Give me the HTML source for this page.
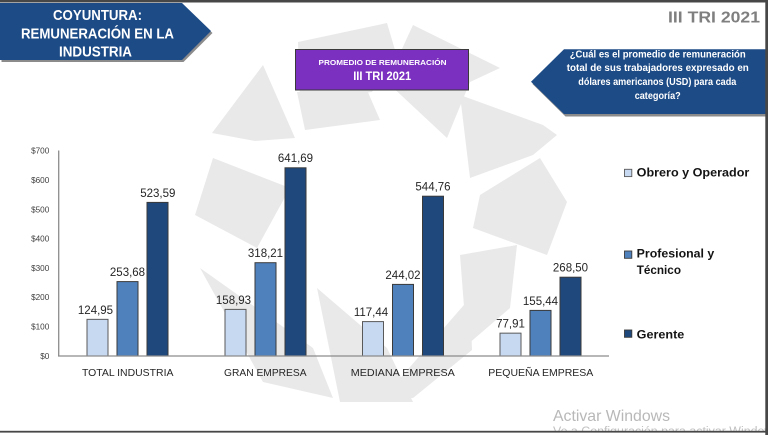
<!DOCTYPE html>
<html>
<head>
<meta charset="utf-8">
<style>
  html,body{margin:0;padding:0;background:#fff;}
  svg{display:block;}
  text{font-family:"Liberation Sans","DejaVu Sans",sans-serif;}
</style>
</head>
<body>
<svg width="768" height="435" viewBox="0 0 768 435" xmlns="http://www.w3.org/2000/svg">
  <rect x="0" y="0" width="768" height="435" fill="#ffffff"/>

  <!-- watermark pinwheel -->
  <g fill="#e9e9e9">
    <polygon points="212,133 263,65 295,138 255,141"/>
    <polygon points="298,42 387,23 395,50 372,92 300,100"/>
    <polygon points="297,92 367,90 380,120 305,130"/>
    <polygon points="407,38 413,25 500,68 470,82 447,138 387,82"/>
    <polygon points="460,95 543,125 557,135 533,155 470,178"/>
    <polygon points="480,195 540,158 567,202 547,255 473,228"/>
    <polygon points="460,255 517,245 510,308 467,345"/>
    <polygon points="383,398 470,298 472,350 413,398"/>
    <polygon points="317,288 387,348 413,402 340,402"/>
    <polygon points="200,268 313,348 333,398 263,382"/>
    <polygon points="195,215 213,158 290,188 257,248"/>
  </g>

  <!-- title box -->
  <polygon points="1.5,5.5 183.5,5.5 212.5,33 183.5,62 1.5,62" fill="#2b2b2b" opacity="0.55"/>
  <polygon points="0,3 182,3 211,31 182,60 0,60" fill="#1d4b86"/>
  <g fill="#ffffff" font-weight="bold" font-size="15" text-anchor="middle">
    <text x="97.5" y="20" textLength="89" lengthAdjust="spacingAndGlyphs">COYUNTURA:</text>
    <text x="97.5" y="38.5" textLength="153" lengthAdjust="spacingAndGlyphs">REMUNERACIÓN EN LA</text>
    <text x="95.5" y="56.7" textLength="73" lengthAdjust="spacingAndGlyphs">INDUSTRIA</text>
  </g>

  <!-- III TRI 2021 -->
  <text x="714" y="22.7" fill="#7f7f7f" font-weight="bold" font-size="16" text-anchor="middle" textLength="92" lengthAdjust="spacingAndGlyphs">III TRI 2021</text>

  <!-- purple box -->
  <rect x="295.5" y="49.5" width="173" height="40.5" fill="#7b30c0" stroke="#3a3a3a" stroke-width="1"/>
  <text x="382.5" y="65" fill="#ffffff" font-weight="bold" font-size="7" text-anchor="middle" textLength="128" lengthAdjust="spacingAndGlyphs">PROMEDIO DE REMUNERACIÓN</text>
  <text x="382.2" y="80" fill="#ffffff" font-weight="bold" font-size="11.5" text-anchor="middle" textLength="58" lengthAdjust="spacingAndGlyphs">III TRI 2021</text>

  <!-- question box -->
  <polygon points="532.5,84 565.5,51.5 768,51.5 768,116.5 565.5,116.5" fill="#2b2b2b" opacity="0.55"/>
  <polygon points="531,81.7 564,49.3 766,49.3 766,114 564,114" fill="#1d4b86"/>
  <g fill="#ffffff" font-weight="bold" font-size="10" text-anchor="middle">
    <text x="657.7" y="57.5" textLength="176" lengthAdjust="spacingAndGlyphs">¿Cuál es el promedio de remuneración</text>
    <text x="657.8" y="71" textLength="182" lengthAdjust="spacingAndGlyphs">total de sus trabajadores expresado en</text>
    <text x="657.3" y="85" textLength="158" lengthAdjust="spacingAndGlyphs">dólares americanos (USD) para cada</text>
    <text x="657.7" y="99" textLength="46" lengthAdjust="spacingAndGlyphs">categoría?</text>
  </g>

  <!-- y tick labels -->
  <g fill="#404040" font-size="8.2" text-anchor="end">
    <text x="49.3" y="153.6">$700</text>
    <text x="49.3" y="182.9">$600</text>
    <text x="49.3" y="212.3">$500</text>
    <text x="49.3" y="241.6">$400</text>
    <text x="49.3" y="270.9">$300</text>
    <text x="49.3" y="300.2">$200</text>
    <text x="49.3" y="329.6">$100</text>
    <text x="49.3" y="358.9">$0</text>
  </g>

  <!-- bars -->
  <g stroke="#3a3a3a" stroke-width="1">
    <rect x="87" y="319.35" width="21" height="36.65" fill="#c6d9f1" stroke="#595959"/>
    <rect x="117" y="281.6" width="21" height="74.4" fill="#4f81bd"/>
    <rect x="147" y="202.4" width="21" height="153.6" fill="#1f497d"/>
    <rect x="225" y="309.4" width="21" height="46.6" fill="#c6d9f1" stroke="#595959"/>
    <rect x="255" y="262.7" width="21" height="93.3" fill="#4f81bd"/>
    <rect x="285" y="167.8" width="21" height="188.2" fill="#1f497d"/>
    <rect x="362.5" y="321.6" width="21" height="34.4" fill="#c6d9f1" stroke="#595959"/>
    <rect x="392.5" y="284.4" width="21" height="71.6" fill="#4f81bd"/>
    <rect x="422.5" y="196.2" width="21" height="159.8" fill="#1f497d"/>
    <rect x="500" y="333.15" width="21" height="22.85" fill="#c6d9f1" stroke="#595959"/>
    <rect x="530" y="310.4" width="21" height="45.6" fill="#4f81bd"/>
    <rect x="560" y="277.2" width="21" height="78.8" fill="#1f497d"/>
  </g>

  <!-- axes -->
  <line x1="58.7" y1="150.5" x2="58.7" y2="356" stroke="#8c8c8c" stroke-width="1.3"/>
  <line x1="58" y1="356" x2="609" y2="356" stroke="#8c8c8c" stroke-width="1.3"/>

  <!-- value labels -->
  <g fill="#262626" font-size="11.5" text-anchor="middle">
    <text x="95.5" y="313.8">124,95</text>
    <text x="127.5" y="276">253,68</text>
    <text x="157.8" y="196.8">523,59</text>
    <text x="233.5" y="303.8">158,93</text>
    <text x="265.5" y="257.1">318,21</text>
    <text x="295.5" y="162.2">641,69</text>
    <text x="371" y="316">117,44</text>
    <text x="403" y="278.8">244,02</text>
    <text x="433" y="190.6">544,76</text>
    <text x="510.5" y="327.5">77,91</text>
    <text x="540.5" y="304.8">155,44</text>
    <text x="570.5" y="271.6">268,50</text>
  </g>

  <!-- category labels -->
  <g fill="#262626" font-size="10.5" text-anchor="middle">
    <text x="127.7" y="376" textLength="91.5" lengthAdjust="spacingAndGlyphs">TOTAL INDUSTRIA</text>
    <text x="265.3" y="376" textLength="82.5" lengthAdjust="spacingAndGlyphs">GRAN EMPRESA</text>
    <text x="402.8" y="376" textLength="104" lengthAdjust="spacingAndGlyphs">MEDIANA EMPRESA</text>
    <text x="540.8" y="376" textLength="105" lengthAdjust="spacingAndGlyphs">PEQUEÑA EMPRESA</text>
  </g>

  <!-- legend -->
  <rect x="624.5" y="169.3" width="7.3" height="7.3" fill="#c6d9f1" stroke="#595959" stroke-width="0.9"/>
  <rect x="624.5" y="251" width="7.3" height="7.3" fill="#4f81bd" stroke="#3a3a3a" stroke-width="0.9"/>
  <rect x="624.5" y="330" width="7.3" height="7.3" fill="#1f497d" stroke="#3a3a3a" stroke-width="0.9"/>
  <g fill="#141414" font-weight="bold" font-size="12">
    <text x="636.7" y="176.7" textLength="112.6" lengthAdjust="spacingAndGlyphs">Obrero y Operador</text>
    <text x="636.7" y="257.3" textLength="77.6" lengthAdjust="spacingAndGlyphs">Profesional y</text>
    <text x="636.7" y="274" textLength="44.3" lengthAdjust="spacingAndGlyphs">Técnico</text>
    <text x="636.7" y="338.3" textLength="47.6" lengthAdjust="spacingAndGlyphs">Gerente</text>
  </g>

  <!-- activation watermark -->
  <text x="553" y="421" fill="#b8b8b8" font-size="16" textLength="117" lengthAdjust="spacingAndGlyphs">Activar Windows</text>
  <text x="553" y="435" fill="#c0c0c0" font-size="11.5" textLength="230" lengthAdjust="spacingAndGlyphs">Ve a Configuración para activar Windows.</text>

  <!-- frame -->
  <rect x="0" y="432.5" width="768" height="3" fill="#ffffff"/>
  <rect x="0" y="0" width="768" height="2.5" fill="#474747"/>
  <rect x="765.3" y="0" width="2.7" height="435" fill="#474747"/>
  <rect x="0" y="430.8" width="768" height="1.8" fill="#474747"/>
</svg>
</body>
</html>
